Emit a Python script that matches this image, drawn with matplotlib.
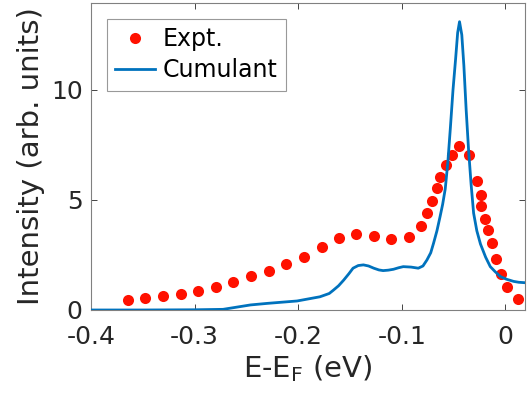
import matplotlib.pyplot as plt

# experimental points (E - E_F in eV, intensity)
expt_e = [-0.3645, -0.3475, -0.330, -0.313, -0.2966, -0.2795, -0.2625, -0.2457,
          -0.2283, -0.2113, -0.1945, -0.1768, -0.1604, -0.144, -0.1269, -0.1099,
          -0.0928, -0.0818, -0.0757, -0.0705, -0.0657, -0.0628, -0.0573, -0.0515,
          -0.0444, -0.0348, -0.0271, -0.0239, -0.0232, -0.0193, -0.0167, -0.0129,
          -0.0087, -0.0039, 0.0016, 0.0119]
expt_i = [0.45, 0.53, 0.64, 0.74, 0.86, 1.05, 1.26, 1.53,
          1.76, 2.09, 2.42, 2.85, 3.27, 3.44, 3.36, 3.23,
          3.30, 3.80, 4.39, 4.97, 5.55, 6.05, 6.58, 7.06,
          7.47, 7.03, 5.86, 5.23, 4.73, 4.14, 3.64, 3.03,
          2.33, 1.64, 1.03, 0.50]

# cumulant spectrum
cum_e = [-0.40, -0.35, -0.30, -0.2725, -0.246, -0.230, -0.201, -0.179, -0.170,
         -0.166, -0.161, -0.156, -0.151, -0.147, -0.142, -0.137, -0.132, -0.127,
         -0.122, -0.118, -0.113, -0.108, -0.103, -0.0985, -0.091, -0.084, -0.0795,
         -0.0757, -0.072, -0.0693, -0.066, -0.063, -0.0605, -0.058, -0.0555, -0.053,
         -0.0505, -0.048, -0.046, -0.0442, -0.042, -0.040, -0.0378, -0.0355, -0.033,
         -0.0306, -0.0275, -0.024, -0.019, -0.0145, -0.010, -0.0048, 0.001, 0.008,
         0.013, 0.019]
cum_i = [0.0, 0.0, 0.01, 0.03, 0.23, 0.30, 0.41, 0.60, 0.75,
         0.90, 1.10, 1.36, 1.65, 1.90, 2.02, 2.05, 2.00, 1.90,
         1.82, 1.79, 1.81, 1.85, 1.92, 1.97, 1.95, 1.90, 2.00,
         2.27, 2.60, 3.03, 3.60, 4.24, 4.80, 5.50, 6.70, 8.30,
         10.00, 11.40, 12.60, 13.10, 12.50, 11.10, 9.10, 7.30, 5.70,
         4.40, 3.60, 3.00, 2.40, 1.97, 1.75, 1.52, 1.40, 1.30,
         1.26, 1.24]

dark = '#262626'
fig = plt.figure(figsize=(5.28, 3.94), dpi=100)
ax = fig.add_axes([0.1723, 0.2132, 0.8220, 0.7792])

ax.plot(expt_e, expt_i, 'o', color='#ff1100', markersize=8, markeredgewidth=0,
        label='Expt.', zorder=2)
ax.plot(cum_e, cum_i, '-', color='#0072BD', linewidth=2, label='Cumulant', zorder=3)

ax.set_xlim(-0.4, 0.019)
ax.set_ylim(0, 13.95)
ax.set_xticks([-0.4, -0.3, -0.2, -0.1, 0])
ax.set_xticklabels(['-0.4', '-0.3', '-0.2', '-0.1', '0'])
ax.set_yticks([0, 5, 10])
ax.tick_params(direction='in', top=True, right=True, length=4, width=0.6,
               labelsize=18, colors=dark)
ax.tick_params(axis='x', pad=11)
ax.tick_params(axis='y', pad=6)
for s in ax.spines.values():
    s.set_color('#808080')
    s.set_linewidth(0.8)

ax.set_xlabel('E-E$_\\mathrm{F}$ (eV)', fontsize=21, color=dark, labelpad=3)
ax.set_ylabel('Intensity (arb. units)', fontsize=21, color=dark, labelpad=4)

leg = ax.legend(loc='upper left', bbox_to_anchor=(0.037, 0.948), fontsize=17,
                frameon=True, fancybox=False, handlelength=1.7, handletextpad=0.3,
                borderpad=0.35, labelspacing=0.3, borderaxespad=0)
leg.get_frame().set_edgecolor('#808080')
leg.get_frame().set_linewidth(0.8)

fig.savefig('out.png', dpi=100)
